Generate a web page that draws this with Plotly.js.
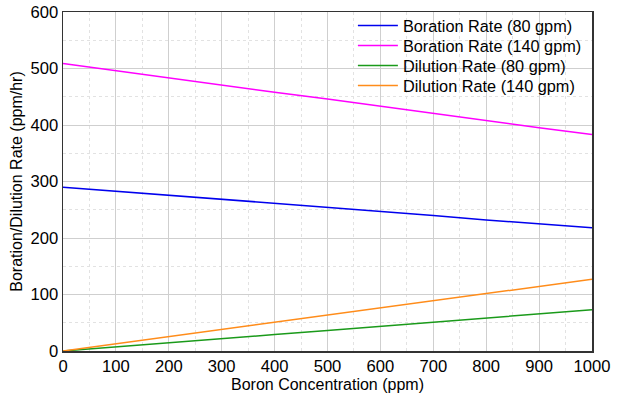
<!DOCTYPE html>
<html>
<head>
<meta charset="utf-8">
<script src="https://cdn.plot.ly/plotly-3.0.1.min.js"></script>
<style>html,body{margin:0;padding:0;background:#fff;}#chart{width:619px;height:398px;}</style>
</head>
<body>
<div id="chart"></div>
<script>
const boronConc = [0, 100, 200, 300, 400, 500, 600, 700, 800, 900, 1000];
const borationRate80 = [290, 283, 276, 268, 261, 254, 247, 240, 232, 225, 218];
const borationRate140 = [509, 496, 483, 471, 458, 446, 433, 420, 408, 395, 383];
const dilutionRate80 = [0, 7, 14.5, 22, 29, 36.5, 44, 51, 58, 65.5, 73];
const dilutionRate140 = [0, 12.7, 25.5, 38, 51, 63.5, 76, 89, 102, 114.5, 127];
const seriesNames = ["Boration Rate (80 gpm)", "Boration Rate (140 gpm)", "Dilution Rate (80 gpm)", "Dilution Rate (140 gpm)"];
const seriesColors = ["#0000ee", "#ff00ff", "#1a9a1a", "#ff8c1a"];

const legendIds = ["legend", "legend2", "legend3", "legend4"];
const ys = [borationRate80, borationRate140, dilutionRate80, dilutionRate140];
const traces = ys.map((y, i) => ({
  x: boronConc, y: y, type: "scatter", mode: "lines",
  name: seriesNames[i], legend: legendIds[i],
  line: {color: seriesColors[i], width: 1.5}
}));

const axisCommon = {
  automargin: false,
  showline: true, mirror: true, linecolor: "#333", linewidth: 1.5,
  gridcolor: "#cfcfcf", gridwidth: 1, zeroline: false, ticks: "",
  tickfont: {family: "Liberation Sans, Arial, sans-serif", size: 16.6, color: "#000"},
  minor: {showgrid: true, gridcolor: "#e2e2e2", griddash: "dot", gridwidth: 1}
};

const plotTop = 12, plotH = 339;
const legendRowsPx = [26, 46, 66, 86];

const layout = {
  width: 619, height: 398,
  margin: {l: 63, r: 27, t: 12, b: 47, autoexpand: false},
  paper_bgcolor: "#fff", plot_bgcolor: "#fff",
  font: {family: "Liberation Sans, Arial, sans-serif", color: "#000"},
  xaxis: Object.assign({}, axisCommon, {
    range: [0, 1000], dtick: 100, tick0: 0,
    minor: Object.assign({}, axisCommon.minor, {dtick: 50}),
    title: {text: "Boron Concentration (ppm)", font: {size: 16, color: "#000"}, standoff: 2}
  }),
  yaxis: Object.assign({}, axisCommon, {
    range: [0, 600], dtick: 100, tick0: 0,
    minor: Object.assign({}, axisCommon.minor, {dtick: 50}),
    title: {text: "Boration/Dilution Rate (ppm/hr)", font: {size: 16, color: "#000"}, standoff: 4}
  }),
  shapes: [{
    type: "rect", xref: "paper", yref: "paper", layer: "between",
    x0: 0.5425, x1: 1, y0: 0.749, y1: 1,
    fillcolor: "#fff", line: {width: 0}
  }],
  showlegend: true
};

legendIds.forEach((id, i) => {
  layout[id] = {
    x: 0.548, xanchor: "left",
    y: (plotTop + plotH - legendRowsPx[i]) / plotH, yanchor: "middle",
    bgcolor: "rgba(0,0,0,0)", borderwidth: 0,
    itemwidth: 40,
    font: {size: 16.3, color: "#000"}
  };
});

Plotly.newPlot("chart", traces, layout, {displayModeBar: false, staticPlot: true});
</script>
</body>
</html>
